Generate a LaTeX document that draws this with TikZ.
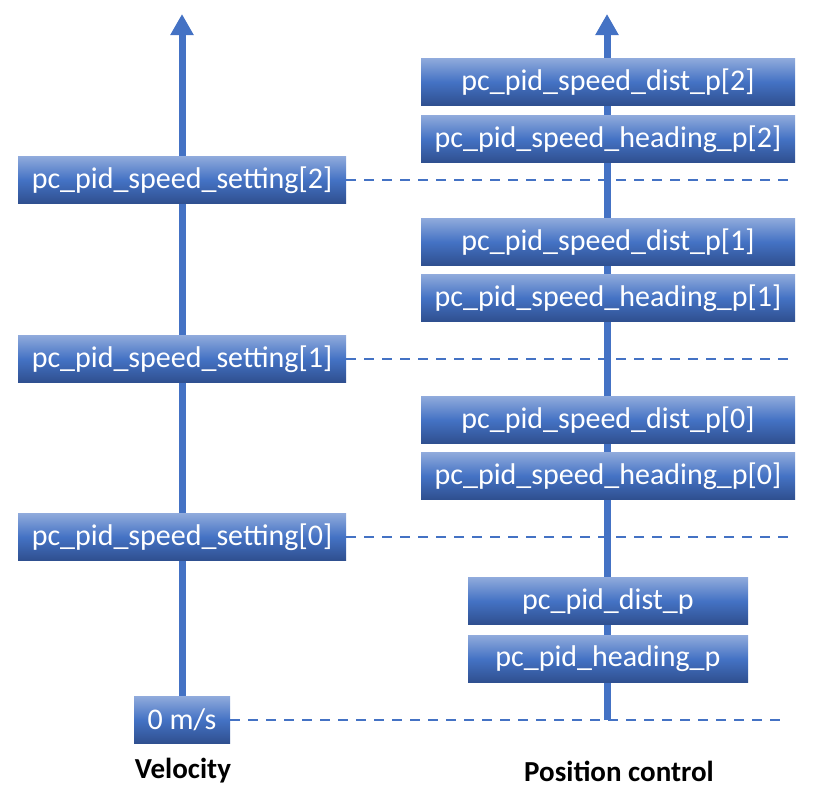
\documentclass[tikz,border=0pt]{standalone}
\usepackage{fontspec}
\setmainfont{Carlito}
\usetikzlibrary{arrows.meta,backgrounds}
\definecolor{blu}{HTML}{4472C4}
\definecolor{boxtop}{HTML}{8FAADC}
\definecolor{boxbot}{HTML}{2F4F8F}
\begin{document}
\begin{tikzpicture}[x=1pt,y=-1pt,
  box/.style={rectangle, inner sep=0pt, top color=boxtop, bottom color=boxbot, middle color=blu,
    text=white, font=\fontsize{30}{36}\selectfont, minimum height=47pt},
  lbox/.style={box, minimum width=328pt},
  rbox/.style={box, minimum width=374pt},
  sbox/.style={box, minimum width=280pt},
  dashline/.style={line width=2pt, draw=blu, dash pattern=on 10pt off 8pt},
  axisarrow/.style={line width=7pt, draw=blu, -{Triangle[width=22pt,length=21pt]}},
  caption/.style={font=\fontsize{29}{35}\selectfont\bfseries, text=black, inner sep=0pt}]
\useasboundingbox (0,0) rectangle (815,793);
% coordinates
\coordinate (ltip) at (182,14);
\coordinate (rtip) at (607,14);
\coordinate (rbot) at (607,720);
\coordinate (d2) at (790,180);
\coordinate (d1) at (790,359);
\coordinate (d0) at (790,537);
\coordinate (dz) at (782,720);
% left boxes
\node[lbox] (s2) at (182,180) {pc\_pid\_speed\_setting[2]};
\node[lbox] (s1) at (182,359) {pc\_pid\_speed\_setting[1]};
\node[lbox] (s0) at (182,537) {pc\_pid\_speed\_setting[0]};
\node[box, minimum width=96pt] (zero) at (182,720) {0 m/s};
% right boxes
\node[rbox] (dp2) at (608,82) {pc\_pid\_speed\_dist\_p[2]};
\node[rbox] (hp2) at (608,139) {pc\_pid\_speed\_heading\_p[2]};
\node[rbox] (dp1) at (608,242) {pc\_pid\_speed\_dist\_p[1]};
\node[rbox] (hp1) at (608,298) {pc\_pid\_speed\_heading\_p[1]};
\node[rbox] (dp0) at (608,420) {pc\_pid\_speed\_dist\_p[0]};
\node[rbox] (hp0) at (608,476) {pc\_pid\_speed\_heading\_p[0]};
\node[sbox] (dp) at (608,601) {pc\_pid\_dist\_p};
\node[sbox] (hp) at (608,659) {pc\_pid\_heading\_p};
% captions
\node[caption] (vel) at (183,771) {Velocity};
\node[caption] (pos) at (619,771) {Position control};
% connectors behind the boxes
\begin{scope}[on background layer]
\draw[dashline] (s2.east) -- (d2);
\draw[dashline] (s1.east) -- (d1);
\draw[dashline] (s0.east) -- (d0);
\draw[dashline] (zero.east) -- (dz);
\draw[axisarrow] (zero.north) -- (ltip);
\draw[axisarrow] (rbot) -- (rtip);
\end{scope}
\end{tikzpicture}
\end{document}
